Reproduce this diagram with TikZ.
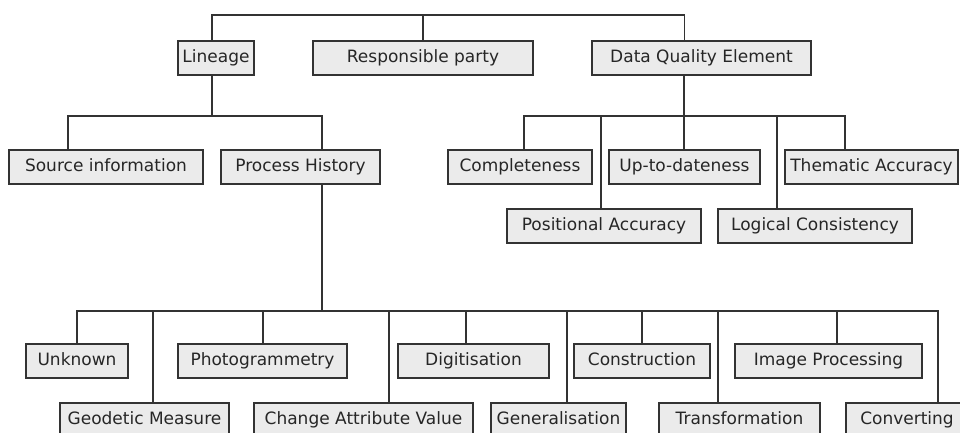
\documentclass[tikz,border=0pt]{standalone}
\usepackage{fontspec}
\setmainfont{DejaVu Sans}
\usepackage{xcolor}
\definecolor{boxgray}{RGB}{235,235,235}
\definecolor{linegray}{RGB}{51,51,51}

\begin{document}
\begin{tikzpicture}[x=1pt,y=-1pt]
\tikzset{item/.style={draw=linegray,fill=boxgray,line width=1.6pt,minimum height=34pt,inner sep=0pt,text height=12.5pt,text depth=3.5pt,text=black!85,font=\fontsize{17}{20}\selectfont}}
\tikzset{link/.style={draw=linegray,line width=1.6pt}}

\useasboundingbox (0,0) rectangle (960,432);

% first level
\node[item,minimum width=76pt] (lineage) at (216,58) {Lineage};
\node[item,minimum width=220pt] (resp) at (423,58) {Responsible party};
\node[item,minimum width=219pt] (dqe) at (701.5,58) {Data Quality Element};

% lineage children
\node[item,minimum width=194pt] (source) at (106,167) {Source information};
\node[item,minimum width=159pt] (process) at (300.5,167) {Process History};

% quality elements
\node[item,minimum width=144pt] (complete) at (520,167) {Completeness};
\node[item,minimum width=151pt] (uptodate) at (684.5,167) {Up-to-dateness};
\node[item,minimum width=173pt] (thematic) at (871.5,167) {Thematic Accuracy};
\node[item,minimum width=194pt] (positional) at (604,226) {Positional Accuracy};
\node[item,minimum width=194pt] (logical) at (815,226) {Logical Consistency};

% process steps
\node[item,minimum width=102pt] (unknown) at (77,361) {Unknown};
\node[item,minimum width=169pt] (photo) at (262.5,361) {Photogrammetry};
\node[item,minimum width=151pt] (digit) at (473.5,361) {Digitisation};
\node[item,minimum width=136pt] (constr) at (642,361) {Construction};
\node[item,minimum width=187pt] (imgproc) at (828.5,361) {Image Processing};
\node[item,minimum width=169pt] (geodetic) at (144.5,420) {Geodetic Measure};
\node[item,minimum width=219pt] (change) at (363.5,420) {Change Attribute Value};
\node[item,minimum width=135pt] (general) at (558.5,420) {Generalisation};
\node[item,minimum width=161pt] (transf) at (739.5,420) {Transformation};
\node[item,minimum width=122pt] (convert) at (907,420) {Converting};

% connectors
\coordinate (top) at (423,15);
\coordinate (lbar) at (212,116);
\coordinate (dbar) at (684,116);
\coordinate (pbar) at (322,311);

\draw[link] ([xshift=-4]lineage.north) |- (top) -| ([xshift=-17]dqe.north);
\draw[link] (top) -- (resp.north);

\draw[link] ([xshift=-4]lineage.south) -- (lbar);
\draw[link] (lbar) -| ([xshift=-38]source.north);
\draw[link] (lbar) -| ([xshift=21.5]process.north);

\draw[link] ([xshift=-17.5]dqe.south) -- (dbar);
\draw[link] (dbar) -| ([xshift=4]complete.north);
\draw[link] (dbar) -| ([xshift=-3]positional.north);
\draw[link] (dbar) -- ([xshift=-0.5]uptodate.north);
\draw[link] (dbar) -| ([xshift=-38]logical.north);
\draw[link] (dbar) -| ([xshift=-26.5]thematic.north);

\draw[link] ([xshift=21.5]process.south) -- (pbar);
\draw[link] (pbar) -| (unknown.north);
\draw[link] (pbar) -| ([xshift=8.5]geodetic.north);
\draw[link] (pbar) -| ([xshift=0.5]photo.north);
\draw[link] (pbar) -| ([xshift=25.5]change.north);
\draw[link] (pbar) -| ([xshift=-7.5]digit.north);
\draw[link] (pbar) -| ([xshift=8.5]general.north);
\draw[link] (pbar) -| (constr.north);
\draw[link] (pbar) -| ([xshift=-21.5]transf.north);
\draw[link] (pbar) -| ([xshift=8.5]imgproc.north);
\draw[link] (pbar) -| ([xshift=31]convert.north);

\end{tikzpicture}
\end{document}
